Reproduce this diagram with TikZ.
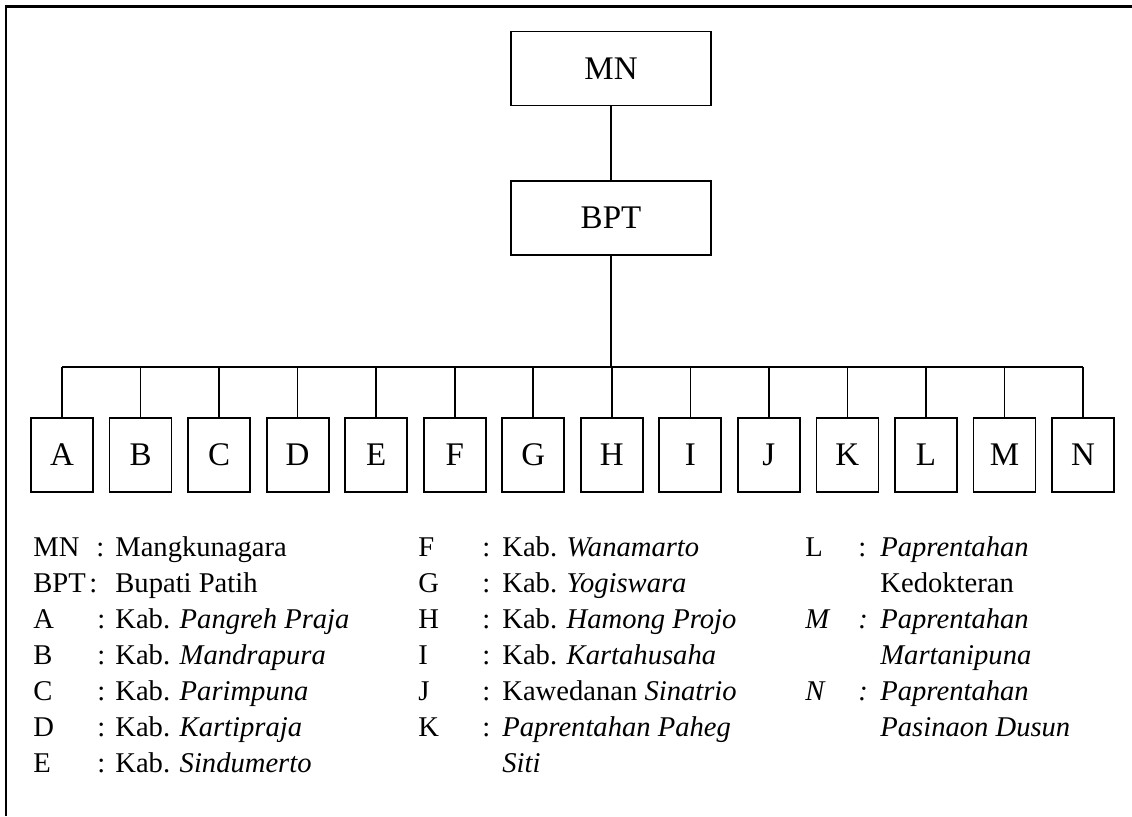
\documentclass[tikz,border=0pt]{standalone}
\usepackage{fontspec}
\setmainfont{Liberation Serif}
\usetikzlibrary{positioning}

\newcommand{\legrow}[4]{\makebox[#1][l]{#2}\makebox[#3][l]{:}#4}

\begin{document}
\begin{tikzpicture}[x=0.5pt,y=-0.5pt,
box/.style={draw,line width=0.9pt,minimum width=100pt,minimum height=37pt,font=\fontsize{16.5}{18}\selectfont},
unit/.style={draw,line width=0.9pt,minimum width=31pt,minimum height=37pt,inner sep=0pt,font=\fontsize{16.5}{18}\selectfont},
key/.style={anchor=base west,inner sep=0pt,font=\fontsize{14.3}{16}\selectfont},
link/.style={line width=0.8pt}]
\useasboundingbox (0,0) rectangle (1132,816);
% frame, open at the right and at the bottom
\draw[line width=1.4pt] (1132,6.5) -- (6,6.5) -- (6,816);
\node[box] (mn) at (611,68.5) {MN};
\node[box] (bpt) at (611,218) {BPT};
\coordinate (bus) at (611,367);
\draw[link] (mn) -- (bpt);
\draw[link] (bpt) -- (bus);
\foreach \n [count=\i from 0] in {A,B,C,D,E,F,G,H,I,J,K,L,M,N}{
  \node[unit] (\n) at ({62+78.54*\i},455) {\n};
  \draw[link] (\n.north) -- (\n.north |- bus);
}
\draw[link] (A.north |- bus) -- (N.north |- bus);
% legend
\node[key] (kMN) at (33,556) {\legrow{31.5pt}{MN}{9.5pt}{Mangkunagara}};
\node[key] (kBPT) at (33,592) {\legrow{28pt}{BPT}{13pt}{Bupati Patih}};
\node[key] (kA) at (33,628) {\legrow{32pt}{A}{9pt}{Kab. \textit{Pangreh Praja}}};
\node[key] (kB) at (33,664) {\legrow{32pt}{B}{9pt}{Kab. \textit{Mandrapura}}};
\node[key] (kC) at (33,700) {\legrow{32pt}{C}{9pt}{Kab. \textit{Parimpuna}}};
\node[key] (kD) at (33,736) {\legrow{32pt}{D}{9pt}{Kab. \textit{Kartipraja}}};
\node[key] (kE) at (33,772) {\legrow{32pt}{E}{9pt}{Kab. \textit{Sindumerto}}};
\node[key] (kF) at (418,556) {\legrow{32pt}{F}{10pt}{Kab. \textit{Wanamarto}}};
\node[key] (kG) at (418,592) {\legrow{32pt}{G}{10pt}{Kab. \textit{Yogiswara}}};
\node[key] (kH) at (418,628) {\legrow{32pt}{H}{10pt}{Kab. \textit{Hamong Projo}}};
\node[key] (kI) at (418,664) {\legrow{32pt}{I}{10pt}{Kab. \textit{Kartahusaha}}};
\node[key] (kJ) at (418,700) {\legrow{32pt}{J}{10pt}{Kawedanan \textit{Sinatrio}}};
\node[key] (kK) at (418,736) {\legrow{32pt}{K}{10pt}{\textit{Paprentahan Paheg}}};
\node[key] (kK2) at (502,772) {\textit{Siti}};
\node[key] (kL) at (805,556) {\legrow{26.5pt}{L}{11pt}{\textit{Paprentahan}}};
\node[key] (kL2) at (880,592) {Kedokteran};
\node[key] (kM) at (805,628) {\itshape\legrow{26.5pt}{M}{11pt}{Paprentahan}};
\node[key] (kM2) at (880,664) {\textit{Martanipuna}};
\node[key] (kN) at (805,700) {\itshape\legrow{26.5pt}{N}{11pt}{Paprentahan}};
\node[key] (kN2) at (880,736) {\textit{Pasinaon Dusun}};
\end{tikzpicture}
\end{document}
